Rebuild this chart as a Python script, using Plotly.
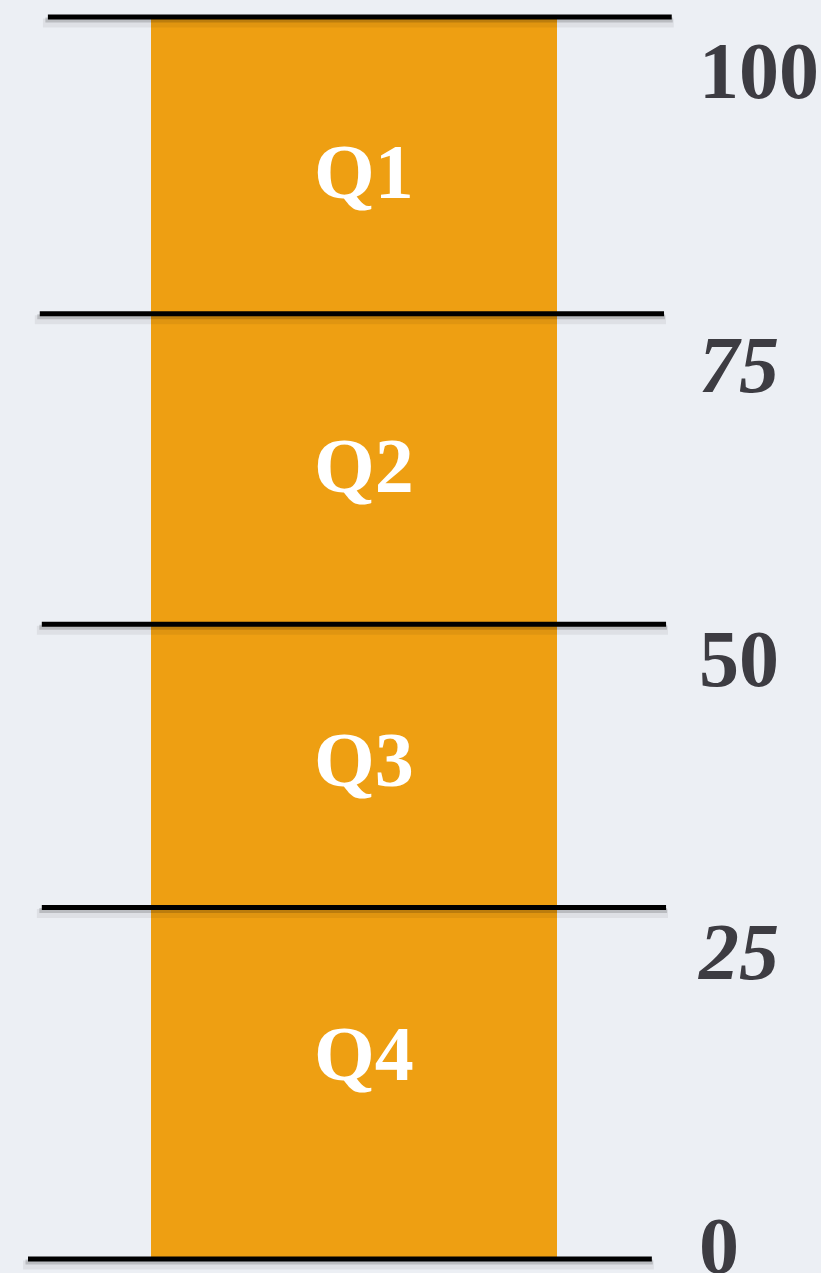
import plotly.graph_objects as go

# ---- data ----
quartiles = ["Q4", "Q3", "Q2", "Q1"]
quartile_sizes = [25, 25, 25, 25]
tick_values = [0, 25, 50, 75, 100]
tick_labels = ["0", "<i>25</i>", "50", "<i>75</i>", "100"]
boundary_levels = [100, 76.1, 51.1, 28.3, 0]   # boundary lines

# ---- style / layout constants ----
W, H = 821, 1273
BG = "#ECEFF4"
ORANGE = "#EE9F12"
TEXT = "#3D3C42"
FONT = "Liberation Serif"
MARGIN_R = 131
PLOT_W = W - MARGIN_R
Y_RANGE = [-1.127, 101.37]
Y2_RANGE = [-2.383, 105.96]
X_RANGE = [-0.872, 0.828]
# horizontal extent of each boundary line (data x units), same order as boundary_levels
LINE_X = [(-0.754, 0.783), (-0.774, 0.764), (-0.769, 0.769), (-0.769, 0.769), (-0.803, 0.734)]

ppu_y = H / (Y_RANGE[1] - Y_RANGE[0])
ppu_x = PLOT_W / (X_RANGE[1] - X_RANGE[0])

fig = go.Figure()

base = 0
for q, v in zip(quartiles, quartile_sizes):
    fig.add_trace(go.Bar(
        x=[0], y=[v], base=[base], width=[1.0], name=q,
        marker=dict(color=ORANGE, line=dict(width=0)),
        hoverinfo="skip", showlegend=False,
    ))
    # quartile label
    fig.add_annotation(
        x=0, y=base + v / 2, xref="x", yref="y2", yshift=45, xshift=10,
        text=f"<b>{q}</b>", showarrow=False,
        font=dict(family=FONT, size=78, color="white"),
    )
    base += v

# invisible trace to activate right axis
fig.add_trace(go.Scatter(x=[0], y=[50], yaxis="y2", mode="markers",
                         marker=dict(opacity=0), hoverinfo="skip", showlegend=False))

# boundary lines with soft drop shadow
for lvl, (x0, x1) in zip(boundary_levels, LINE_X):
    dy1 = 3 / ppu_y
    dy2 = 6 / ppu_y
    dx = 5 / ppu_x
    fig.add_shape(type="line", xref="x", yref="y", x0=x0 - dx, x1=x1 + 2 * dx / 5,
                  y0=lvl - dy2, y1=lvl - dy2,
                  line=dict(color="rgba(0,0,0,0.06)", width=9), layer="above")
    fig.add_shape(type="line", xref="x", yref="y", x0=x0 - dx / 2, x1=x1 + dx / 5,
                  y0=lvl - dy1, y1=lvl - dy1,
                  line=dict(color="rgba(0,0,0,0.16)", width=5), layer="above")
    fig.add_shape(type="line", xref="x", yref="y", x0=x0, x1=x1,
                  y0=lvl, y1=lvl,
                  line=dict(color="black", width=5), layer="above")

fig.update_layout(
    width=W, height=H, autosize=False,
    margin=dict(l=0, r=MARGIN_R, t=0, b=0, pad=0),
    paper_bgcolor=BG, plot_bgcolor=BG,
    barmode="stack",
    showlegend=False,
    xaxis=dict(range=X_RANGE, visible=False, fixedrange=True),
    yaxis=dict(range=Y_RANGE, visible=False, fixedrange=True),
    yaxis2=dict(
        range=Y2_RANGE, overlaying="y", side="right",
        tickvals=tick_values, ticktext=[f"<b>{t}</b>" for t in tick_labels],
        tickfont=dict(family=FONT, size=80, color=TEXT),
        showgrid=False, zeroline=False, showline=False, ticks="",
        ticklabelstandoff=8, ticklabeloverflow="allow", fixedrange=True,
        automargin=False,
    ),
)

fig.write_html(
    "out.html",
    config={"displayModeBar": False, "responsive": False, "staticPlot": True},
    post_script=(
        "document.documentElement.style.overflow='hidden';"
        "document.body.style.overflow='hidden';"
        "document.body.style.margin='0';"
        "document.body.style.background='#ECEFF4';"
    ),
)
